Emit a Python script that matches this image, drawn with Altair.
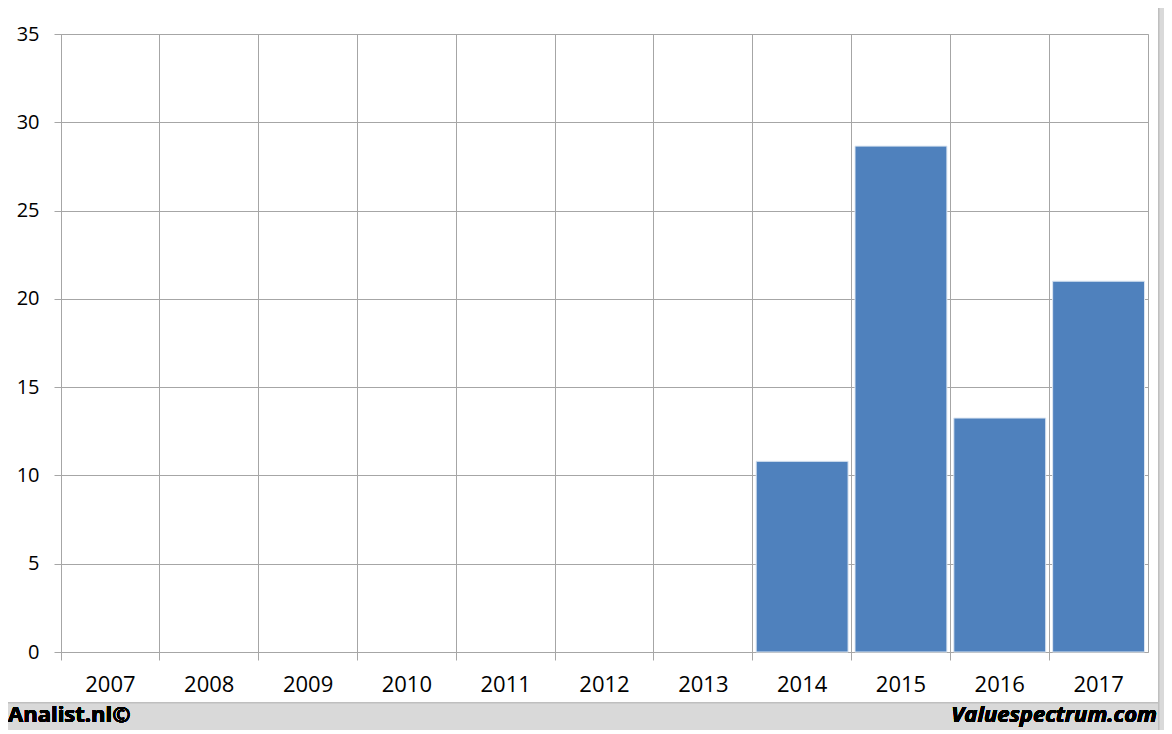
import altair as alt
import pandas as pd

years = ["2007", "2008", "2009", "2010", "2011", "2012", "2013", "2014", "2015", "2016", "2017"]
values = [None, None, None, None, None, None, None, 10.8, 28.65, 13.25, 21.0]
y_ticks = [0, 5, 10, 15, 20, 25, 30, 35]
left_label = "Analist.nl©"
right_label = "Valuespectrum.com"

df = pd.DataFrame({"year": years, "value": values})
bars_df = df.dropna()

GRID = "#a6a6a6"
GRAY = "#d9d9d9"
FONT = "Open Sans"

x_enc = alt.X(
    "year:N",
    scale=alt.Scale(domain=years, paddingInner=0, paddingOuter=0),
    axis=alt.Axis(
        title=None, labelAngle=0, bandPosition=0, grid=True, gridColor=GRID,
        gridWidth=1, tickColor=GRID, tickSize=8, domain=False,
        labelFont=FONT, labelFontSize=22, labelColor="#000000", labelPadding=14,
        labelAlign="center", labelBaseline="top",
    ),
)
y_enc = alt.Y(
    "value:Q",
    scale=alt.Scale(domain=[0, 35], nice=False),
    axis=alt.Axis(
        title=None, values=y_ticks, grid=True, gridColor=GRID, gridWidth=1,
        tickColor=GRID, tickSize=7, domain=False,
        labelFont=FONT, labelFontSize=20, labelColor="#000000", labelPadding=15,
    ),
)

bars = alt.Chart(bars_df).mark_bar(
    color="#4f81bd", width={"band": 0.93}, stroke="#dce6f2", strokeWidth=1
).encode(x=x_enc, y=y_enc)

strip_bottom = alt.Chart(df).mark_rect(color=GRAY, stroke="#bfbfbf", strokeWidth=1).encode(
    x=alt.value(-60), x2=alt.value(1110), y=alt.value(669), y2=alt.value(710)
)
strip_right = alt.Chart(df).mark_rect(color=GRAY, stroke="#bfbfbf", strokeWidth=1).encode(
    x=alt.value(1098), x2=alt.value(1110), y=alt.value(-40), y2=alt.value(710)
)

txt_left = alt.Chart(df).mark_text(
    text=left_label, font=FONT, fontSize=22, fontWeight="bold", align="left",
    baseline="alphabetic", color="#000000"
).encode(x=alt.value(-53), y=alt.value(688))

txt_right = alt.Chart(df).mark_text(
    text=right_label, font=FONT, fontSize=22, fontWeight="bold", fontStyle="italic",
    align="right", baseline="alphabetic", color="#000000"
).encode(x=alt.value(1096), y=alt.value(688))

chart = alt.layer(bars, strip_bottom, strip_right, txt_left, txt_right).properties(
    width=1087, height=618,
    autosize=alt.AutoSizeParams(type="none"),
    padding={"left": 53, "top": 26, "right": 16, "bottom": 78},
    background="#ffffff",
).configure_view(stroke=GRID, strokeWidth=1)

chart.save("out.html", embed_options={"renderer": "svg", "actions": False})
